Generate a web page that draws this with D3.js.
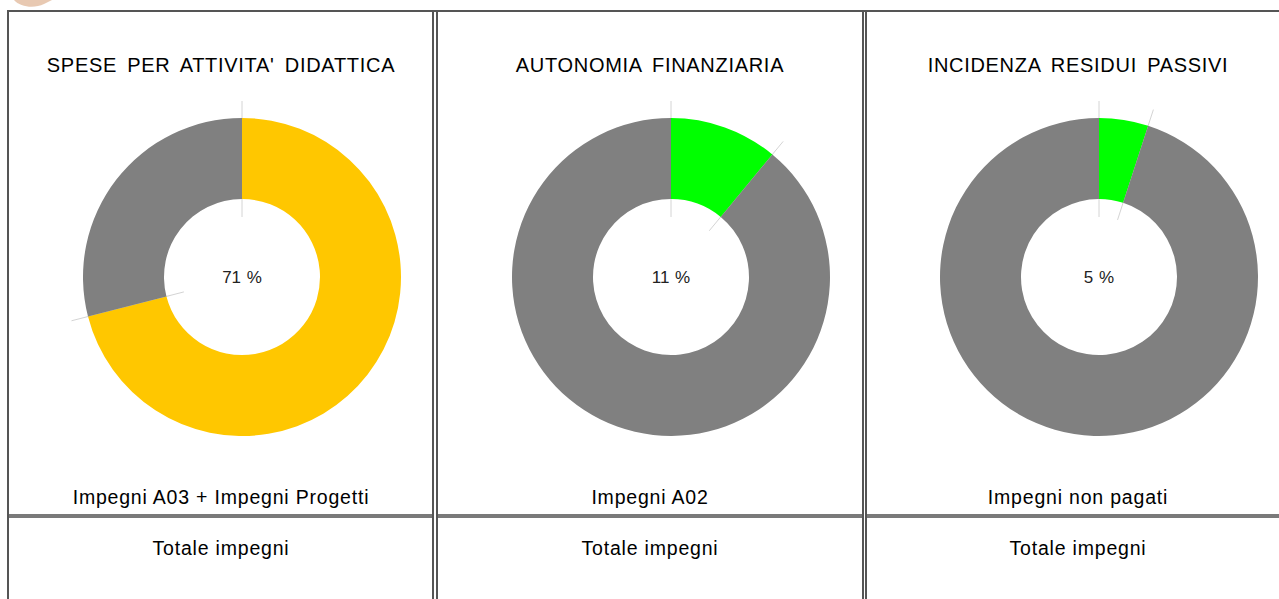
<!DOCTYPE html>
<html>
<head>
<meta charset="utf-8">
<script src="https://cdn.jsdelivr.net/npm/d3@7"></script>
<style>
  body { margin: 0; background: #fff; }
  svg { display: block; }
</style>
</head>
<body>
<svg width="1279" height="599"></svg>
<script>
// Chart data
const titles = ["SPESE PER ATTIVITA' DIDATTICA", "AUTONOMIA FINANZIARIA", "INCIDENZA RESIDUI PASSIVI"];
const numerators = ["Impegni A03 + Impegni Progetti", "Impegni A02", "Impegni non pagati"];
const denominators = ["Totale impegni", "Totale impegni", "Totale impegni"];
const percents = [71, 11, 5];

const sliceColors = [["#ffc700", "#808080"], ["#00ff00", "#808080"], ["#00ff00", "#808080"]];

const svg = d3.select("svg");

// cell layout
const cells = [9, 438, 866];
const cellW = 424;
const chartCy = 277;
const outerR = 159, innerR = 78;

// small logo fragment top-left
svg.append("path")
    .attr("d", "M14,0 C20,7 34,9 44,4 L52,0 Z")
    .attr("fill", "#d9a57e")
    .attr("opacity", 0.6);

const pie = d3.pie().sort(null).value(d => d);
const arc = d3.arc().innerRadius(innerR).outerRadius(outerR);

cells.forEach((x0, i) => {
    const g = svg.append("g");
    const cx = x0 + 233;
    const cxText = x0 + cellW / 2;

    g.append("text")
        .attr("x", cxText).attr("y", 72)
        .attr("text-anchor", "middle")
        .style("font-family", "Liberation Sans, Arial, sans-serif")
        .style("font-size", "20px")
        .style("letter-spacing", "0.7px")
        .style("word-spacing", "4px")
        .attr("fill", "#000")
        .text(titles[i]);

    const arcs = pie([percents[i], 100 - percents[i]]);
    const chart = g.append("g").attr("transform", `translate(${cx},${chartCy})`);

    // thin guide lines on slice boundaries
    const bounds = arcs.map(a => a.startAngle);
    chart.selectAll("line")
        .data(bounds)
        .enter()
        .append("line")
        .attr("x1", a => 60 * Math.sin(a))
        .attr("y1", a => -60 * Math.cos(a))
        .attr("x2", a => 176 * Math.sin(a))
        .attr("y2", a => -176 * Math.cos(a))
        .attr("stroke", "#d4d4d4")
        .attr("stroke-width", 1);

    chart.selectAll("path")
        .data(arcs)
        .enter()
        .append("path")
        .attr("d", arc)
        .attr("fill", (d, j) => sliceColors[i][j]);

    chart.append("text")
        .attr("x", 0).attr("y", 6)
        .attr("text-anchor", "middle")
        .style("font-family", "Liberation Sans, Arial, sans-serif")
        .style("font-size", "17px")
        .style("word-spacing", "1px")
        .attr("fill", "#222")
        .text(percents[i] + " %");

    g.append("text")
        .attr("x", cxText).attr("y", 504)
        .attr("text-anchor", "middle")
        .style("font-family", "Liberation Sans, Arial, sans-serif")
        .style("font-size", "19.5px")
        .style("letter-spacing", "0.8px")
        .attr("fill", "#000")
        .text(numerators[i]);

    g.append("text")
        .attr("x", cxText).attr("y", 555)
        .attr("text-anchor", "middle")
        .style("font-family", "Liberation Sans, Arial, sans-serif")
        .style("font-size", "19.5px")
        .style("letter-spacing", "0.8px")
        .attr("fill", "#000")
        .text(denominators[i]);
});

// table borders
const lines = svg.append("g");
// horizontal separator between rows
lines.append("rect").attr("x", 9).attr("y", 514).attr("width", 1270).attr("height", 4).attr("fill", "#7a7a7a");
// top border
lines.append("rect").attr("x", 7).attr("y", 10).attr("width", 1272).attr("height", 2).attr("fill", "#555");
// left border
lines.append("rect").attr("x", 7).attr("y", 10).attr("width", 2).attr("height", 589).attr("fill", "#555");
// double column separators
[432, 436, 862, 865].forEach(x => {
    lines.append("rect").attr("x", x).attr("y", 12).attr("width", 2).attr("height", 587).attr("fill", "#555");
});
// white gaps in horizontal line at double separators
[434, 864].forEach(x => {
    lines.append("rect").attr("x", x).attr("y", 514).attr("width", x === 434 ? 2 : 1).attr("height", 4).attr("fill", "#fff");
});
</script>
</body>
</html>
